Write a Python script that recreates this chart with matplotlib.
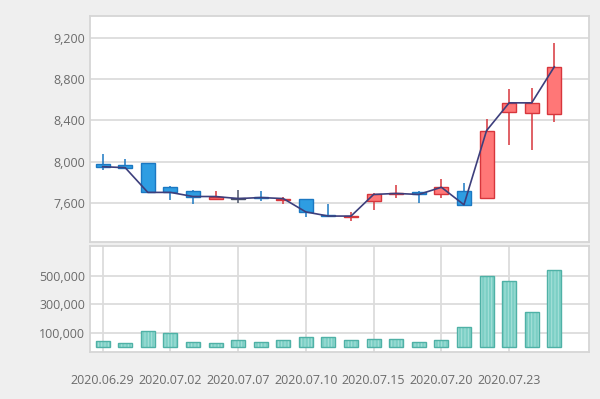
import numpy as np
import matplotlib
matplotlib.use("Agg")
import matplotlib.pyplot as plt

plt.rcParams['font.family'] = ['Open Sans', 'DejaVu Sans']
plt.rcParams['hatch.linewidth'] = 0.7

# Daily prices
dates = ["2020.06.29", "2020.06.30", "2020.07.01", "2020.07.02", "2020.07.03",
         "2020.07.06", "2020.07.07", "2020.07.08", "2020.07.09", "2020.07.10",
         "2020.07.13", "2020.07.14", "2020.07.15", "2020.07.16", "2020.07.17",
         "2020.07.20", "2020.07.21", "2020.07.22", "2020.07.23", "2020.07.24",
         "2020.07.27"]
opens = [7980, 7970, 7990, 7750, 7710, 7640, 7640, 7660, 7630, 7640, 7480,
         7460, 7620, 7680, 7700, 7680, 7710, 7650, 8480, 8470, 8460]
highs = [8070, 8020, 7990, 7760, 7720, 7710, 7720, 7710, 7660, 7640, 7590,
         7510, 7690, 7770, 7710, 7830, 7790, 8410, 8700, 8710, 9150]
lows = [7920, 7930, 7700, 7630, 7590, 7640, 7600, 7620, 7590, 7460, 7470,
        7420, 7530, 7650, 7600, 7650, 7580, 7650, 8160, 8110, 8380]
closes = [7950, 7940, 7700, 7700, 7660, 7660, 7640, 7650, 7640, 7510, 7470,
          7470, 7680, 7690, 7680, 7750, 7580, 8300, 8570, 8570, 8920]
volumes = [42000, 26000, 112000, 96000, 33000, 26000, 51000, 33000, 51000,
           68000, 68000, 51000, 58000, 58000, 33000, 51000, 138000, 496000,
           463000, 243000, 542000]

price_ticks = [7600, 8000, 8400, 8800, 9200]
volume_ticks = [100000, 300000, 500000]
label_every = 3

x = np.arange(len(dates))
opens = np.array(opens)
closes = np.array(closes)

fig = plt.figure(figsize=(6, 3.99), dpi=100, facecolor='#efefef')
ax = fig.add_axes([0.15, 0.3927, 0.831, 0.568])
axv = fig.add_axes([0.15, 0.1178, 0.831, 0.2664])

gray_txt = '#6b6b6b'
grid_c = '#dcdcdc'
for a in (ax, axv):
    a.set_facecolor('white')
    for s in a.spines.values():
        s.set_color('#d6d6d6')
        s.set_linewidth(1.3)
    a.tick_params(length=0, colors=gray_txt, labelsize=9)
    a.set_xlim(-0.56, 21.52)

# candle colours
up_face, up_edge = '#ff7777', '#d7363c'
dn_face, dn_edge = '#2e9de2', '#1b78c2'
eq_c = '#4b5468'
faces, edges = [], []
for o, c in zip(opens, closes):
    if c > o:
        faces.append(up_face); edges.append(up_edge)
    elif c < o:
        faces.append(dn_face); edges.append(dn_edge)
    else:
        faces.append(eq_c); edges.append(eq_c)

ax.vlines(x, lows, highs, colors=edges, linewidth=1.1, zorder=2)
body_bottom = np.minimum(opens, closes)
body_h = np.maximum(np.abs(closes - opens), 4)
ax.bar(x, body_h, 0.62, bottom=body_bottom, color=faces, edgecolor=edges,
       linewidth=1.0, zorder=3)
ax.plot(x, closes, color='#3d3f7c', linewidth=1.2, zorder=4)

ax.set_ylim(7215, 9417)
ax.set_yticks(price_ticks)
ax.set_yticklabels([f"{v:,}" for v in price_ticks])
ax.grid(axis='y', color=grid_c, linewidth=1.3)
ax.set_axisbelow(True)
ax.set_xticks([])

# volume bars
axv.bar(x, volumes, 0.62, color='#7ccfc5', edgecolor='#a9e2da', linewidth=0,
        hatch='|||||', zorder=3)
axv.bar(x, volumes, 0.62, fill=False, edgecolor='#4fb1a6', linewidth=1.0,
        zorder=4)
axv.set_ylim(-35450, 710540)
axv.set_yticks(volume_ticks)
axv.set_yticklabels([f"{v:,}" for v in volume_ticks])
axv.set_xticks(x[::label_every])
axv.set_xticklabels(dates[::label_every])
axv.tick_params(axis='x', pad=16)
axv.grid(color=grid_c, linewidth=1.3)
axv.set_axisbelow(True)

fig.savefig("out.png", dpi=100, facecolor=fig.get_facecolor())
